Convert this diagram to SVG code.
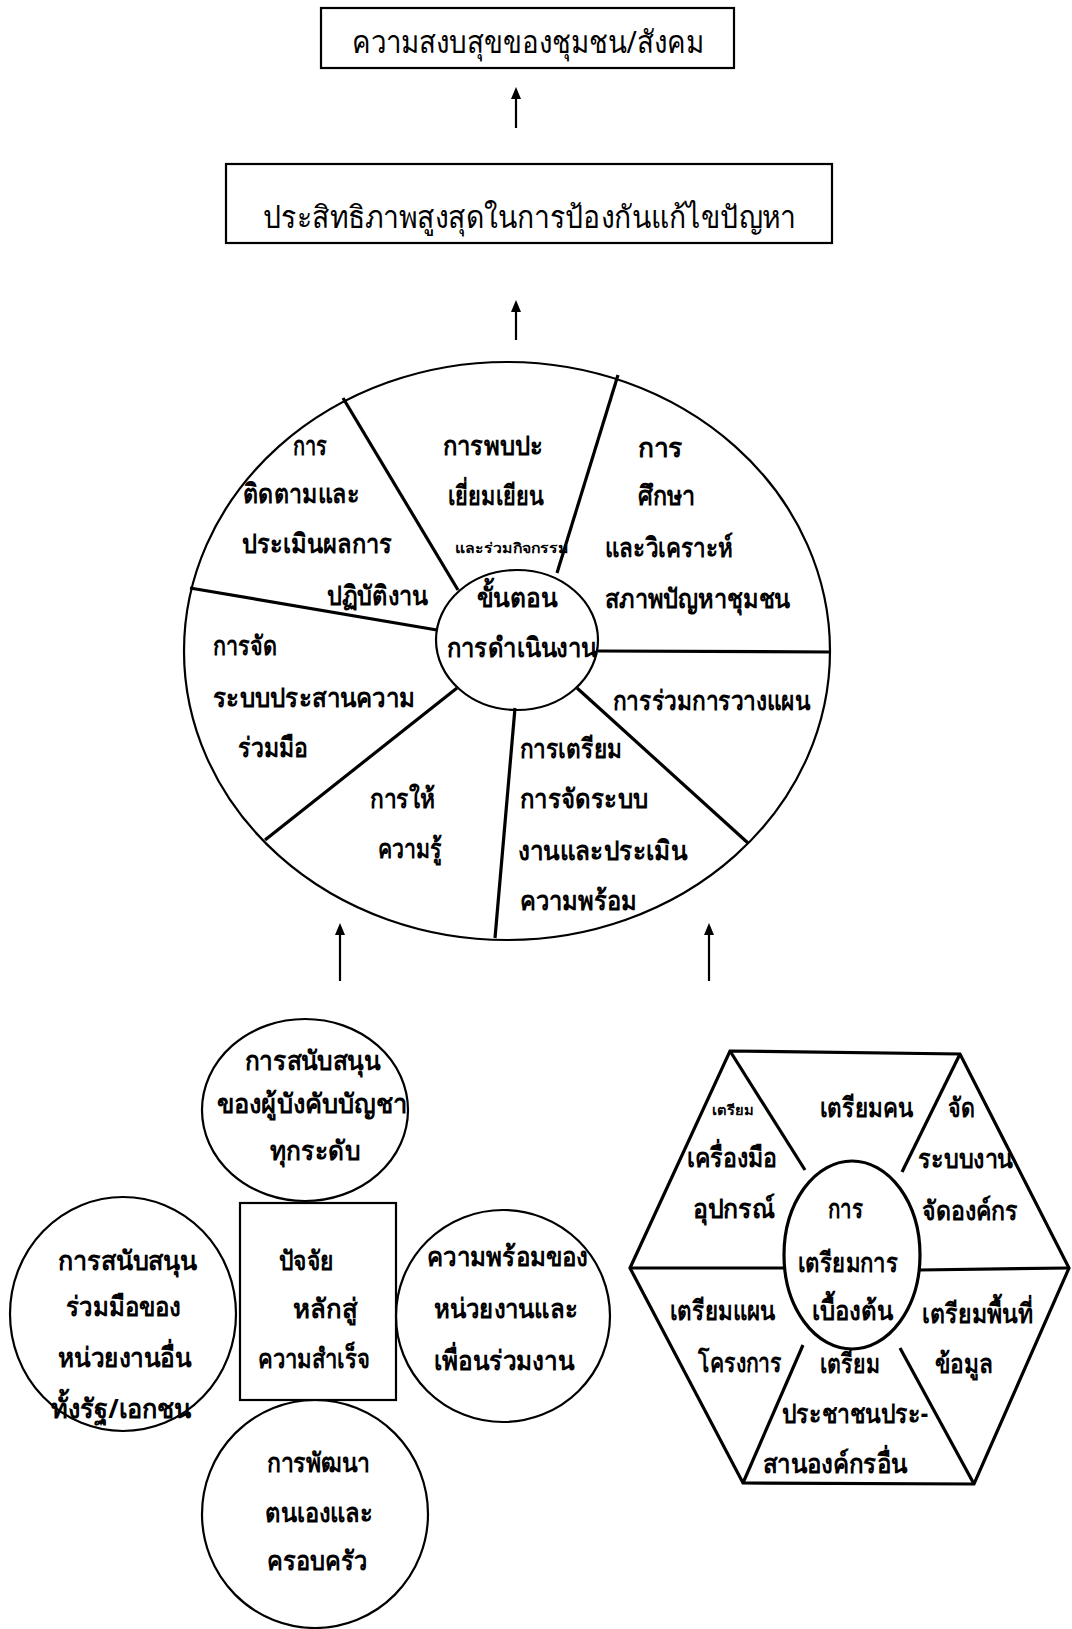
<svg xmlns="http://www.w3.org/2000/svg" width="1072" height="1629" viewBox="0 0 1072 1629">
<style>
text{font-family:"Noto Sans","DejaVu Sans",sans-serif;font-size:27px;fill:#000;font-weight:bold}
.tt{font-size:31px;font-weight:normal}
.sm{font-size:14px}
.b{fill:none;stroke:#000;stroke-width:2.2}
.s{fill:none;stroke:#000;stroke-width:3.2}
.a{stroke:#000;stroke-width:2.2;fill:none}
</style>
<defs>
<marker id="ah" viewBox="0 0 12 10" refX="4" refY="5" markerWidth="12" markerHeight="10" markerUnits="userSpaceOnUse" orient="auto">
<path d="M0,0 L12,5 L0,10 Z" fill="#000"/>
</marker>
</defs>
<rect width="1072" height="1629" fill="#fff"/>

<g id="connectors">
<line class="a" x1="516" y1="128" x2="516" y2="95" marker-end="url(#ah)"/>
<line class="a" x1="516" y1="340" x2="516" y2="308" marker-end="url(#ah)"/>
<line class="a" x1="340" y1="981" x2="340" y2="931" marker-end="url(#ah)"/>
<line class="a" x1="709" y1="981" x2="709" y2="931" marker-end="url(#ah)"/>
</g>

<g id="n-peace">
<rect class="b" x="321" y="8" width="413" height="60"/>
<text class="tt" x="352" y="53" textLength="352" lengthAdjust="spacingAndGlyphs">ความสงบสุขของชุมชน/สังคม</text>
</g>

<g id="n-efficiency">
<rect class="b" x="226" y="164" width="606" height="79"/>
<text class="tt" x="263" y="228" textLength="533" lengthAdjust="spacingAndGlyphs">ประสิทธิภาพสูงสุดในการป้องกันแก้ไขปัญหา</text>
</g>

<g id="n-wheel">
<ellipse class="b" cx="507" cy="651" rx="323" ry="289"/>
<line class="s" x1="343" y1="398" x2="458" y2="590"/>
<line class="s" x1="618" y1="375" x2="557" y2="573"/>
<line class="s" x1="190" y1="588" x2="437" y2="630"/>
<line class="s" x1="598" y1="651" x2="830" y2="652"/>
<line class="s" x1="577" y1="688" x2="748" y2="843"/>
<line class="s" x1="515" y1="708" x2="495" y2="938"/>
<line class="s" x1="457" y1="688" x2="265" y2="840"/>
<ellipse class="b" cx="517" cy="640" rx="81" ry="70" fill="#fff"/>
<text x="293" y="455" textLength="34" lengthAdjust="spacingAndGlyphs">การ</text>
<text x="243" y="503" textLength="117" lengthAdjust="spacingAndGlyphs">ติดตามและ</text>
<text x="242" y="553" textLength="150" lengthAdjust="spacingAndGlyphs">ประเมินผลการ</text>
<text x="327" y="605" textLength="101" lengthAdjust="spacingAndGlyphs">ปฏิบัติงาน</text>
<text x="443" y="455" textLength="100" lengthAdjust="spacingAndGlyphs">การพบปะ</text>
<text x="448" y="505" textLength="95" lengthAdjust="spacingAndGlyphs">เยี่ยมเยียน</text>
<text class="sm" x="455" y="553" textLength="113" lengthAdjust="spacingAndGlyphs">และร่วมกิจกรรม</text>
<text x="638" y="457" textLength="45" lengthAdjust="spacingAndGlyphs">การ</text>
<text x="638" y="505" textLength="57" lengthAdjust="spacingAndGlyphs">ศึกษา</text>
<text x="605" y="557" textLength="128" lengthAdjust="spacingAndGlyphs">และวิเคราะห์</text>
<text x="605" y="608" textLength="185" lengthAdjust="spacingAndGlyphs">สภาพปัญหาชุมชน</text>
<text x="477" y="607" textLength="80" lengthAdjust="spacingAndGlyphs">ขั้นตอน</text>
<text x="447" y="657" textLength="150" lengthAdjust="spacingAndGlyphs">การดำเนินงาน</text>
<text x="213" y="655" textLength="64" lengthAdjust="spacingAndGlyphs">การจัด</text>
<text x="213" y="707" textLength="202" lengthAdjust="spacingAndGlyphs">ระบบประสานความ</text>
<text x="238" y="757" textLength="70" lengthAdjust="spacingAndGlyphs">ร่วมมือ</text>
<text x="370" y="808" textLength="65" lengthAdjust="spacingAndGlyphs">การให้</text>
<text x="378" y="858" textLength="64" lengthAdjust="spacingAndGlyphs">ความรู้</text>
<text x="613" y="710" textLength="197" lengthAdjust="spacingAndGlyphs">การร่วมการวางแผน</text>
<text x="520" y="758" textLength="102" lengthAdjust="spacingAndGlyphs">การเตรียม</text>
<text x="520" y="808" textLength="128" lengthAdjust="spacingAndGlyphs">การจัดระบบ</text>
<text x="518" y="860" textLength="169" lengthAdjust="spacingAndGlyphs">งานและประเมิน</text>
<text x="520" y="910" textLength="117" lengthAdjust="spacingAndGlyphs">ความพร้อม</text>
</g>

<g id="n-support-top">
<ellipse class="b" cx="305" cy="1110" rx="103" ry="91"/>
<text x="245" y="1070" textLength="135" lengthAdjust="spacingAndGlyphs">การสนับสนุน</text>
<text x="217" y="1113" textLength="190" lengthAdjust="spacingAndGlyphs">ของผู้บังคับบัญชา</text>
<text x="270" y="1160" textLength="90" lengthAdjust="spacingAndGlyphs">ทุกระดับ</text>
</g>

<g id="n-factors">
<rect class="b" x="240" y="1203" width="156" height="197"/>
<text x="279" y="1270" textLength="55" lengthAdjust="spacingAndGlyphs">ปัจจัย</text>
<text x="293" y="1318" textLength="64" lengthAdjust="spacingAndGlyphs">หลักสู่</text>
<text x="258" y="1368" textLength="112" lengthAdjust="spacingAndGlyphs">ความสำเร็จ</text>
</g>

<g id="n-support-left">
<ellipse class="b" cx="123" cy="1314" rx="113" ry="117"/>
<text x="58" y="1270" textLength="139" lengthAdjust="spacingAndGlyphs">การสนับสนุน</text>
<text x="66" y="1316" textLength="115" lengthAdjust="spacingAndGlyphs">ร่วมมือของ</text>
<text x="58" y="1367" textLength="133" lengthAdjust="spacingAndGlyphs">หน่วยงานอื่น</text>
<text x="51" y="1418" textLength="140" lengthAdjust="spacingAndGlyphs">ทั้งรัฐ/เอกชน</text>
</g>

<g id="n-readiness">
<ellipse class="b" cx="503" cy="1316" rx="107" ry="106"/>
<text x="427" y="1266" textLength="161" lengthAdjust="spacingAndGlyphs">ความพร้อมของ</text>
<text x="434" y="1318" textLength="144" lengthAdjust="spacingAndGlyphs">หน่วยงานและ</text>
<text x="434" y="1370" textLength="140" lengthAdjust="spacingAndGlyphs">เพื่อนร่วมงาน</text>
</g>

<g id="n-selfdev">
<ellipse class="b" cx="315" cy="1514" rx="113" ry="114"/>
<text x="267" y="1472" textLength="103" lengthAdjust="spacingAndGlyphs">การพัฒนา</text>
<text x="265" y="1522" textLength="108" lengthAdjust="spacingAndGlyphs">ตนเองและ</text>
<text x="267" y="1570" textLength="100" lengthAdjust="spacingAndGlyphs">ครอบครัว</text>
</g>

<g id="n-hexagon">
<polygon class="s" points="730,1051 960,1054 1069,1268 974,1484 743,1483 630,1268"/>
<line class="s" x1="630" y1="1268" x2="785" y2="1268"/>
<line class="s" x1="919" y1="1270" x2="1069" y2="1268"/>
<line class="s" x1="730" y1="1051" x2="805" y2="1170"/>
<line class="s" x1="960" y1="1054" x2="902" y2="1172"/>
<line class="s" x1="743" y1="1483" x2="803" y2="1345"/>
<line class="s" x1="974" y1="1484" x2="900" y2="1348"/>
<ellipse class="s" cx="852" cy="1255" rx="68" ry="94"/>
<text class="sm" x="712" y="1115" textLength="41" lengthAdjust="spacingAndGlyphs">เตรียม</text>
<text x="820" y="1117" textLength="93" lengthAdjust="spacingAndGlyphs">เตรียมคน</text>
<text x="948" y="1117" textLength="27" lengthAdjust="spacingAndGlyphs">จัด</text>
<text x="687" y="1167" textLength="90" lengthAdjust="spacingAndGlyphs">เครื่องมือ</text>
<text x="918" y="1168" textLength="95" lengthAdjust="spacingAndGlyphs">ระบบงาน</text>
<text x="693" y="1218" textLength="82" lengthAdjust="spacingAndGlyphs">อุปกรณ์</text>
<text x="828" y="1218" textLength="35" lengthAdjust="spacingAndGlyphs">การ</text>
<text x="922" y="1220" textLength="96" lengthAdjust="spacingAndGlyphs">จัดองค์กร</text>
<text x="798" y="1272" textLength="100" lengthAdjust="spacingAndGlyphs">เตรียมการ</text>
<text x="812" y="1320" textLength="81" lengthAdjust="spacingAndGlyphs">เบื้องต้น</text>
<text x="670" y="1320" textLength="105" lengthAdjust="spacingAndGlyphs">เตรียมแผน</text>
<text x="922" y="1323" textLength="111" lengthAdjust="spacingAndGlyphs">เตรียมพื้นที่</text>
<text x="698" y="1372" textLength="84" lengthAdjust="spacingAndGlyphs">โครงการ</text>
<text x="820" y="1373" textLength="60" lengthAdjust="spacingAndGlyphs">เตรียม</text>
<text x="935" y="1373" textLength="58" lengthAdjust="spacingAndGlyphs">ข้อมูล</text>
<text x="782" y="1423" textLength="146" lengthAdjust="spacingAndGlyphs">ประชาชนประ-</text>
<text x="763" y="1473" textLength="144" lengthAdjust="spacingAndGlyphs">สานองค์กรอื่น</text>
</g>
</svg>
